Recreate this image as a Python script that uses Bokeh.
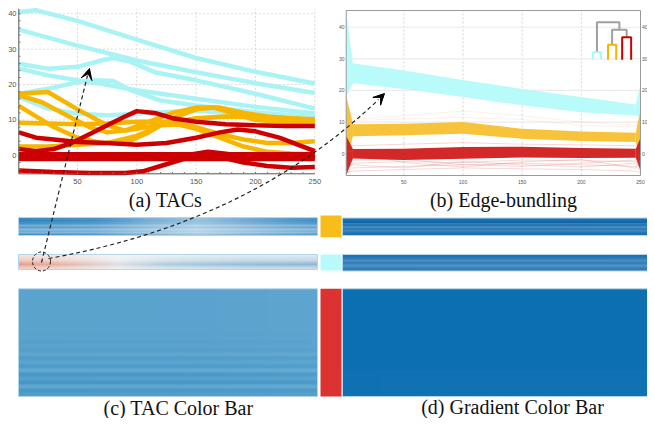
import numpy as np
from bokeh.plotting import figure
from bokeh.models import Range1d, Arrow, VeeHead
from bokeh.core.properties import value
from bokeh.embed import file_html
from bokeh.resources import INLINE

# ---------------- (a) TACs ----------------
cyan_x = [
    [0.5, 15, 50, 100, 150, 200, 250],
    [0.5, 50, 100, 150, 200, 250],
    [0.5, 25, 50, 70, 80, 95, 115, 150, 200, 250],
    [0.5, 25, 50, 70, 100, 150, 200, 250],
    [0.5, 25, 50, 65, 80, 95, 120, 150, 200, 250],
    [0.5, 25, 50, 75, 100, 150, 200, 250],
]
cyan_y = [
    [40.5, 41.0, 38.0, 32.7, 27.5, 23.6, 20.3],
    [35.5, 31.0, 26.8, 23.5, 20.4, 17.6],
    [25.9, 24.5, 25.0, 26.8, 27.5, 26.4, 23.5, 21.2, 17.4, 13.2],
    [24.5, 22.6, 21.2, 20.2, 18.4, 16.0, 13.7, 11.8],
    [17.4, 18.8, 20.7, 21.2, 21.0, 18.4, 15.5, 14.1, 12.2, 10.8],
    [16.5, 13.2, 11.8, 11.3, 11.8, 12.7, 11.3, 9.9],
]
orange_x = [
    [0.5, 25, 50, 75, 90, 100, 125, 150, 175, 200, 225, 250],
    [0.5, 20, 40, 60, 75, 90, 110, 130, 150, 170, 190, 210, 230, 250],
    [0.5, 15, 30, 50, 70, 90, 110, 130, 150, 165, 180, 200, 225, 250],
    [0.5, 50, 75, 100, 125, 150, 170, 190, 210, 230, 250],
    [0.5, 25, 50, 75, 100, 120, 135, 150, 170, 190, 210, 230, 250],
]
orange_y = [
    [17.4, 17.9, 13.0, 8.5, 7.0, 7.5, 9.0, 10.5, 11.0, 10.8, 10.5, 10.2],
    [17.0, 15.0, 11.5, 8.0, 6.5, 7.0, 9.5, 12.0, 13.5, 13.5, 12.0, 11.0, 10.5, 10.0],
    [14.0, 11.0, 8.0, 5.0, 3.5, 3.5, 6.5, 10.5, 13.0, 13.5, 12.0, 10.0, 9.5, 9.2],
    [9.2, 8.8, 9.0, 9.5, 9.5, 8.0, 6.0, 4.5, 3.5, 3.5, 4.0],
    [2.5, 2.5, 3.0, 3.5, 5.5, 8.5, 8.7, 7.5, 5.0, 2.5, 1.0, 0.5, 0.3],
]
red_x = [
    [0.5, 15, 30, 50, 75, 100, 125, 150, 170, 185, 200, 220, 240, 250],
    [0.5, 15, 30, 45, 60, 75, 90, 100, 115, 130, 150, 175, 200, 225, 250],
    [0.5, 250],
    [0.5, 250],
    [0.5, 250],
    [0.5, 120, 140, 160, 175, 195, 250],
    [0.5, 30, 60, 90, 105, 120, 140, 155, 170, 190, 210, 230, 250],
]
red_y = [
    [6.5, 5.0, 4.5, 3.8, 3.5, 3.0, 3.5, 5.0, 6.5, 7.3, 6.8, 5.0, 2.5, 1.2],
    [1.8, 1.2, 1.8, 3.5, 6.0, 8.5, 11.0, 12.5, 12.0, 10.5, 9.5, 8.8, 8.5, 8.3, 8.3],
    [0.3, 0.3],
    [-0.4, -0.4],
    [-1.0, -1.0],
    [-0.5, -0.5, 0.0, 1.0, 0.5, -0.5, -0.5],
    [-4.3, -4.7, -5.0, -5.0, -4.5, -3.0, -1.0, 0.0, -0.5, -2.0, -3.0, -3.5, -3.3],
]
a_xticks = [50, 100, 150, 200, 250]
a_yticks = [0, 10, 20, 30, 40]

# ---------------- (b) Edge-bundling ----------------
b_knot_x = [7, 50, 100, 150, 200, 246]
b_cyan_top = [28.6, 26.3, 23.3, 20.5, 17.9, 15.6]
b_cyan_bot = [22.3, 20.5, 17.9, 15.3, 13.1, 12.1]
b_orange_top = [9.3, 9.5, 10.0, 7.9, 7.0, 6.6]
b_orange_bot = [5.5, 5.8, 6.3, 4.7, 4.0, 3.7]
b_red_top = [1.5, 1.6, 2.1, 2.2, 1.8, 1.6]
b_red_bot = [-1.5, -2.0, -1.6, -1.2, -1.4, -1.3]
b_left_fan = {"cyan": (45.3, 17.9), "orange": (18.4, -2.0), "red": (5.6, -6.9)}
b_right_fan = {"cyan": (22.1, 11.6), "orange": (13.7, -1.0), "red": (5.0, -5.5)}
b_faint_x = [1.3, 7, 50, 100, 150, 200, 246, 250]
b_faint_red = [
    [-6.5, -4.5, -4.0, -3.5, -3.0, -3.5, -4.0, -5.5],
    [-5.0, -3.0, -2.5, -2.8, -2.0, -2.2, -2.5, -3.5],
    [-6.0, -5.5, -5.0, -4.5, -4.8, -5.0, -5.5, -6.0],
    [3.0, 2.5, 3.0, 3.5, 3.0, 2.8, 2.5, 4.0],
    [-3.0, -2.0, -1.8, -3.5, -4.0, -3.0, -2.0, -2.5],
    [-4.0, -3.5, -4.5, -2.5, -3.5, -4.2, -3.0, -4.5],
    [1.0, 0.5, -2.8, -4.2, -2.6, -1.8, -4.6, -2.0],
]
b_faint_orange = [
    [16.0, 11.0, 12.0, 13.5, 12.0, 10.0, 9.0, 12.0],
    [14.0, 10.5, 11.0, 11.5, 10.8, 9.0, 8.5, 11.0],
]
b_xticks = [50, 100, 150, 200, 250]
b_yticks = [0, 10, 20, 30, 40]
# dendrogram (panel b data units): leaf centre, half width, leaf top; merges
dendro_leaf_x = [213.2, 226.0, 238.3]
dendro_leaf_hw = [3.5, 3.45, 3.8]
dendro_leaf_top = [32.1, 34.5, 36.8]
dendro_base = 29.7
dendro_merge1 = 39.2   # orange + red
dendro_merge2 = 41.6   # cyan + (orange, red)

# ---------------- (c)/(d) colour bars ----------------
bar1_left_pos = [0.0, 0.25, 0.45, 0.6, 0.75, 0.9, 1.0]
bar1_left_col = ["#3b8cc3", "#4a95c8", "#80b4d8", "#9cc5e0", "#7db1d6", "#5b9fcd", "#4c96c9"]
bar1_left_k = [1.0, 1.05, 1.0, 0.95, 0.7, 0.85, 0.6, 0.8, 0.65, 0.95]
bar1_right_pos = [0.0, 1.0]
bar1_right_col = ["#1a6fb0", "#1b70b1"]
bar1_right_k = [1.0, 1.0, 1.05, 0.85, 0.95, 0.8, 0.92, 0.78, 0.95, 1.0]
bar2_left_pos = [0.0, 0.1, 0.25, 0.33, 0.5, 0.75, 1.0]
bar2_left_col = ["#f3cfc6", "#f3d6cf", "#f0e6e3", "#eef0f2", "#d8e6ef", "#cbdfeb", "#c8dcea"]
bar2_left_k = [0.6, 0.8, 1.0, 1.1, 1.6, 2.0, 1.4, 1.0]
bar2_right_pos = [0.0, 1.0]
bar2_right_col = ["#1e73b3", "#1f74b4"]
bar2_right_k = [1.0, 1.0, 0.92, 0.8, 0.92, 0.85, 0.78, 0.88, 0.95]
bar3_left_pos = [0.0, 0.5, 1.0]
bar3_left_col = ["#5aa3cd", "#5ba3ce", "#5ea6cf"]
bar3_left_k = [1.0, 1.0, 1.0, 1.0, 1.0, 1.0, 1.0, 1.0, 1.0, 1.0, 1.0, 1.01, 1.0, 1.02,
               1.0, 1.03, 0.97, 1.05, 1.0, 1.07, 0.95, 1.1, 1.03, 1.12, 0.96, 1.1, 1.05]
bar3_right_pos = [0.0, 1.0]
bar3_right_col = ["#0b6fb1", "#0c70b2"]
bar3_right_k = [1.0, 1.0, 1.0, 0.98]
cluster_colors = ["#f8bd18", "#b8fafa", "#dc3232"]

# ---------------- layout (page pixels) ----------------
FX0, FX1, FY0, FY1 = 0, 647, 0, 418
A_PX = (18.3, 314.3, 0.5, 250.0)
A_PY = (8.3, 173.3, 41.4, -5.2)
B_PX = (345.7, 640.0, 1.3, 250.0)
B_PY = (10.0, 175.0, 45.3, -6.9)


def x_extra(px0, px1, d0, d1):
    s = (d1 - d0) / (px1 - px0)
    return Range1d(start=d0 - (px0 - FX0) * s, end=d1 + (FX1 - px1) * s)


def y_extra(ptop, pbot, dtop, dbot):
    s = (dtop - dbot) / (pbot - ptop)
    return Range1d(start=dbot - (FY1 - pbot) * s, end=dtop + (ptop - FY0) * s)


p = figure(width=FX1 - FX0, height=FY1 - FY0, x_range=Range1d(FX0, FX1),
           y_range=Range1d(-FY1, -FY0), min_border=0, toolbar_location=None,
           output_backend="svg", x_axis_type=None, y_axis_type=None,
           outline_line_color=None)
p.extra_x_ranges = {"ax": x_extra(*A_PX), "bx": x_extra(*B_PX)}
p.extra_y_ranges = {"ay": y_extra(*A_PY), "by": y_extra(*B_PY)}

a_sx = (A_PX[3] - A_PX[2]) / (A_PX[1] - A_PX[0])
a_sy = (A_PY[2] - A_PY[3]) / (A_PY[1] - A_PY[0])
AX0, AX1, AY0, AY1 = A_PX[2], A_PX[3], A_PY[3], A_PY[2]
BX0, BX1, BY0, BY1 = B_PX[2], B_PX[3], B_PY[3], B_PY[2]
A = dict(x_range_name="ax", y_range_name="ay")
B = dict(x_range_name="bx", y_range_name="by")
tick_font = value("Liberation Sans")

# ---- panel (a) ----
p.segment(x0=a_xticks, x1=a_xticks, y0=[AY0] * 5, y1=[AY1] * 5, line_color="#d8d8d8",
          line_dash="2 2", line_width=1, **A)
p.segment(x0=[AX0] * 5, x1=[AX1] * 5, y0=a_yticks, y1=a_yticks, line_color="#d8d8d8",
          line_dash="2 2", line_width=1, **A)
p.multi_line(xs=cyan_x, ys=cyan_y, line_color="#aaf3f5", line_width=4.5, **A)
p.multi_line(xs=orange_x, ys=orange_y, line_color="#f7b500", line_width=4.5, **A)
p.multi_line(xs=red_x, ys=red_y, line_color="#cc0000", line_width=4.5, **A)
p.segment(x0=[AX0, AX0], x1=[AX0, AX1], y0=[AY0, AY0], y1=[AY1, AY0],
          line_color="#555555", line_width=1, **A)
minor_y = [-4, -2, 2, 4, 6, 8, 12, 14, 16, 18, 22, 24, 26, 28, 32, 34, 36, 38, 40]
p.segment(x0=[AX0] * len(minor_y), x1=[AX0 + 1.8 * a_sx] * len(minor_y), y0=minor_y,
          y1=minor_y, line_color="#777777", line_width=1, **A)
minor_x = [10, 20, 30, 40, 50, 60, 70, 80, 90, 100, 110, 120, 130, 140, 150, 160, 170,
           180, 190, 200, 210, 220, 230, 240]
p.segment(x0=minor_x, x1=minor_x, y0=[AY0] * len(minor_x),
          y1=[AY0 + 1.8 * a_sy] * len(minor_x), line_color="#777777", line_width=1, **A)
p.text(x=a_xticks, y=[-181] * 5, text=[str(t) for t in a_xticks], x_range_name="ax",
       text_align="center", text_baseline="middle", text_font=tick_font,
       text_font_size="7.5px", text_color="#555555")
p.text(x=[16] * 5, y=a_yticks, text=[str(t) for t in a_yticks], y_range_name="ay",
       text_align="right", text_baseline="middle", text_font=tick_font,
       text_font_size="7.5px", text_color="#555555")

# ---- panel (b) ----
p.segment(x0=b_xticks[:-1], x1=b_xticks[:-1], y0=[BY0] * 4, y1=[BY1] * 4,
          line_color="#d4d4d4", line_dash="2 2", line_width=1, **B)
p.segment(x0=[BX0] * 5, x1=[BX1] * 5, y0=b_yticks, y1=b_yticks, line_color="#ececec",
          line_width=1.2, **B)
for clr, top, bot, key in [("#b5fbfb", b_cyan_top, b_cyan_bot, "cyan"),
                           ("#f7c030", b_orange_top, b_orange_bot, "orange"),
                           ("#d01c1c", b_red_top, b_red_bot, "red")]:
    lf, rf = b_left_fan[key], b_right_fan[key]
    p.patch(x=[BX0, b_knot_x[0], b_knot_x[0], BX0], y=[lf[0], top[0], bot[0], lf[1]],
            fill_color=clr, line_color=None, fill_alpha=0.95, **B)
    p.patch(x=[b_knot_x[-1], BX1, BX1, b_knot_x[-1]], y=[top[-1], rf[0], rf[1], bot[-1]],
            fill_color=clr, line_color=None, fill_alpha=0.95, **B)
    if key == "red":
        p.multi_line(xs=[b_faint_x] * len(b_faint_red), ys=b_faint_red,
                     line_color="#e06060", line_alpha=0.25, line_width=1, **B)
    if key == "orange":
        p.multi_line(xs=[b_faint_x] * len(b_faint_orange), ys=b_faint_orange,
                     line_color="#f0a060", line_alpha=0.15, line_width=1, **B)
    p.varea(x=b_knot_x, y1=bot, y2=top, fill_color=clr, fill_alpha=0.95, **B)
p.quad(left=[BX0], right=[BX1], bottom=[BY0], top=[BY1], fill_alpha=0,
       line_color="#9a9a9a", line_width=1, **B)
p.text(x=b_xticks, y=[-181.5] * 5, text=[str(t) for t in b_xticks], x_range_name="bx",
       text_align="center", text_baseline="middle", text_font=tick_font,
       text_font_size="5px", text_color="#555555")
p.text(x=[344] * 5, y=b_yticks, text=[str(t) for t in b_yticks], y_range_name="by",
       text_align="right", text_baseline="middle", text_font=tick_font,
       text_font_size="5px", text_color="#555555")
p.text(x=[641.5] * 5, y=b_yticks, text=[str(t) for t in b_yticks], y_range_name="by",
       text_align="left", text_baseline="middle", text_font=tick_font,
       text_font_size="5px", text_color="#555555")
# dendrogram
lx, hw, lt = dendro_leaf_x, dendro_leaf_hw, dendro_leaf_top
mid_or = (lx[1] + lx[2]) / 2
p.multi_line(xs=[[lx[1], lx[1], lx[2], lx[2]], [lx[0], lx[0], mid_or, mid_or]],
             ys=[[lt[1], dendro_merge1, dendro_merge1, lt[2]],
                 [lt[0], dendro_merge2, dendro_merge2, dendro_merge1]],
             line_color="#a0a0a0", line_width=2, **B)
for i, clr in enumerate(["#a8f8f8", "#f7b500", "#cc0000"]):
    p.line(x=[lx[i] - hw[i], lx[i] - hw[i], lx[i] + hw[i], lx[i] + hw[i]],
           y=[dendro_base, lt[i], lt[i], dendro_base], line_color=clr, line_width=2, **B)


# ---- colour bars ----
def hex2rgb(h):
    return np.array([int(h[i:i + 2], 16) for i in (1, 3, 5)], dtype=float)


def make_bar(pos, cols, row_k, ncols=300):
    c = np.array([hex2rgb(h) for h in cols])
    xs = np.linspace(0, 1, ncols)
    base = np.stack([np.interp(xs, pos, c[:, i]) for i in range(3)], axis=-1)
    k = np.array(row_k, dtype=float)[:, None, None]
    img = np.clip(255 - (255 - base[None, :, :]) * k, 0, 255).astype(np.uint8)
    rgba = np.zeros((len(row_k), ncols), dtype=np.uint32)
    view = rgba.view(dtype=np.uint8).reshape((len(row_k), ncols, 4))
    view[:, :, :3] = img
    view[:, :, 3] = 255
    return np.ascontiguousarray(rgba[::-1])


bars = [
    (bar1_left_pos, bar1_left_col, bar1_left_k, 18, 317, 217, 235),
    (bar1_right_pos, bar1_right_col, bar1_right_k, 342, 647, 217.5, 235),
    (bar2_left_pos, bar2_left_col, bar2_left_k, 18, 317, 254, 269),
    (bar2_right_pos, bar2_right_col, bar2_right_k, 342, 647, 254, 270.5),
    (bar3_left_pos, bar3_left_col, bar3_left_k, 18, 317, 288.3, 396),
    (bar3_right_pos, bar3_right_col, bar3_right_k, 342, 647, 288.3, 396),
]
for pos, cols, ks, x0, x1, t, b in bars:
    p.image_rgba(image=[make_bar(pos, cols, ks)], x=x0, y=-b, dw=x1 - x0, dh=b - t)
    p.quad(left=[x0], right=[x1], top=[-t], bottom=[-b], fill_alpha=0,
           line_color="#b4d4ea", line_width=1)
p.quad(left=[320] * 3, right=[341] * 3, top=[-215, -254, -288.3],
       bottom=[-236.7, -270, -396], fill_color=cluster_colors, line_color=None)

# ---- captions ----
cap_font = value("Liberation Serif")
p.text(x=[165, 503, 178, 512], y=[-199, -199, -407, -406.5],
       text=["(a) TACs", "(b) Edge-bundling", "(c) TAC Color Bar", "(d) Gradient Color Bar"],
       text_align="center", text_baseline="middle", text_font=cap_font,
       text_font_size="20px", text_color="#111111")

# ---- highlight circle and arrows ----
p.ellipse(x=[41], y=[-261], width=18, height=19, fill_alpha=0, line_color="#222222",
          line_dash="3 2", line_width=1)
p.segment(x0=[41], y0=[-262], x1=[87], y1=[-75], line_color="#222222",
          line_dash="4 3", line_width=1.2)
p.add_layout(Arrow(end=VeeHead(size=11, fill_color="black", line_color="black"),
                   x_start=86, y_start=-79, x_end=89, y_end=-68, line_alpha=0))
P0, C0, P2 = (48, 258), (250, 222), (384, 93)
p.quadratic(x0=[P0[0]], y0=[-P0[1]], x1=[P2[0] - 6], y1=[-(P2[1] + 6)], cx=[C0[0]],
            cy=[-C0[1]], line_color="#222222", line_dash="4 3", line_width=1.2)
p.add_layout(Arrow(end=VeeHead(size=11, fill_color="black", line_color="black"),
                   x_start=P2[0] - 8, y_start=-(P2[1] + 8), x_end=P2[0], y_end=-P2[1],
                   line_alpha=0))

open("out.html", "w").write(file_html(p, INLINE))
